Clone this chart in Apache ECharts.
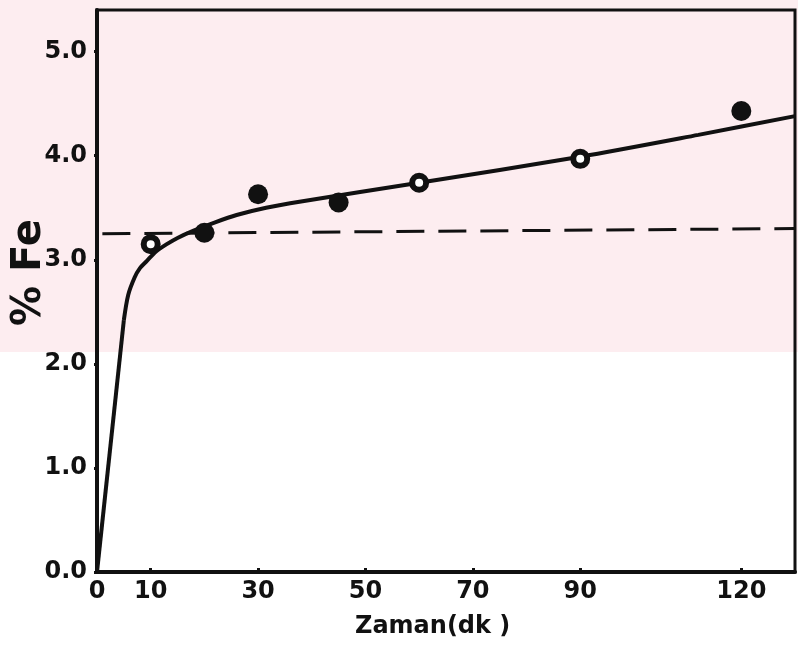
<!DOCTYPE html>
<html>
<head>
<meta charset="utf-8">
<script src="https://cdn.jsdelivr.net/npm/echarts@6/dist/echarts.min.js"></script>
<style>
    html, body { margin: 0; padding: 0; background: #fff; }
    #chart { width: 798px; height: 656px; }
</style>
</head>
<body>
<div id="chart"></div>
<script>
    // measured points: time (min), % Fe
    var openPoints = [[10, 3.15], [60, 3.74], [90, 3.97]];
    var filledPoints = [[20, 3.26], [30, 3.63], [45, 3.55], [120, 4.43]];
    // hand drawn fit: straight rise, then bend
    var riseLine = [[0, 0], [5.0, 2.42]];
    var curveTimes = [5.0, 5.8, 7, 8, 9.3, 11, 13, 15, 18, 22, 26, 31.5, 38, 60, 90, 112, 130];
    var curveValues = [2.42, 2.66, 2.83, 2.92, 2.99, 3.08, 3.15, 3.21, 3.28, 3.36, 3.43, 3.5, 3.56, 3.74, 3.99, 4.2, 4.38];
    // dashed level line
    var levelLine = [[1, 3.25], [130, 3.30]];
    var xTicks = [0, 10, 30, 50, 70, 90, 120];
    var yTicks = [0, 1, 2, 3, 4, 5];

    var curve = curveTimes.map(function (t, i) { return [t, curveValues[i]]; });

    var chart = echarts.init(document.getElementById('chart'));
    chart.setOption({
        backgroundColor: '#fff',
        animation: false,
        graphic: [
            {
                type: 'rect',
                z: -10,
                silent: true,
                shape: { x: 0, y: 0, width: 798, height: 352 },
                style: { fill: '#fdedf0' }
            },
            {
                type: 'text',
                rotation: Math.PI / 2,
                position: [10, 326],
                style: {
                    text: '% Fe',
                    font: 'bold 40px "DejaVu Sans"',
                    fill: '#111'
                }
            },
            {
                type: 'text',
                left: 355,
                top: 615,
                style: {
                    text: 'Zaman(dk )',
                    font: 'bold 24px "DejaVu Sans"',
                    fill: '#111'
                }
            }
        ],
        grid: {
            left: 97,
            right: 3,
            top: 10,
            bottom: 84,
            show: true,
            borderColor: '#111',
            borderWidth: 3,
            backgroundColor: 'transparent'
        },
        xAxis: {
            type: 'value',
            min: 0,
            max: 130,
            splitLine: { show: false },
            axisLine: { lineStyle: { color: '#111', width: 4 } },
            axisTick: { inside: true, length: 4, customValues: xTicks, lineStyle: { color: '#111', width: 3 } },
            axisLabel: {
                customValues: xTicks,
                color: '#111',
                fontFamily: 'DejaVu Sans',
                fontWeight: 'bold',
                fontSize: 24,
                margin: 8
            }
        },
        yAxis: {
            type: 'value',
            min: 0,
            max: 5.4,
            splitLine: { show: false },
            axisLine: { lineStyle: { color: '#111', width: 4 } },
            axisTick: { show: true, length: 3, customValues: yTicks, lineStyle: { color: '#111', width: 3 } },
            axisLabel: {
                customValues: yTicks,
                color: '#111',
                fontFamily: 'DejaVu Sans',
                fontWeight: 'bold',
                fontSize: 24,
                margin: 10,
                formatter: function (v) { return v.toFixed(1); }
            }
        },
        series: [
            {
                type: 'line',
                data: levelLine,
                showSymbol: false,
                lineStyle: { color: '#111', width: 3, type: [28, 14] },
                z: 2
            },
            {
                type: 'line',
                data: riseLine,
                showSymbol: false,
                lineStyle: { color: '#111', width: 4 },
                z: 3
            },
            {
                type: 'line',
                data: curve,
                smooth: 0.3,
                showSymbol: false,
                lineStyle: { color: '#111', width: 4 },
                z: 3
            },
            {
                type: 'scatter',
                data: filledPoints,
                symbolSize: 20,
                itemStyle: { color: '#111', opacity: 1 },
                z: 4
            },
            {
                type: 'scatter',
                data: openPoints,
                symbolSize: 14,
                itemStyle: { color: '#fff', borderColor: '#111', borderWidth: 6, opacity: 1 },
                z: 4
            }
        ]
    });
</script>
</body>
</html>
